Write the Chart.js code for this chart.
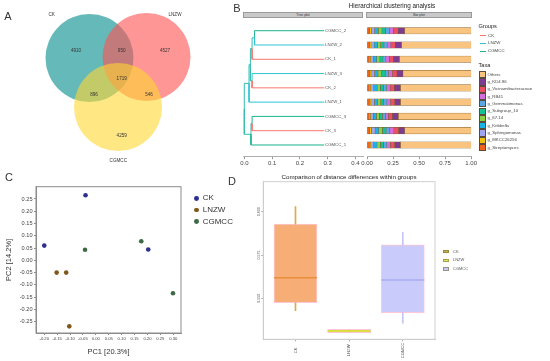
<!DOCTYPE html>
<html>
<head>
<meta charset="utf-8">
<script src="https://cdn.jsdelivr.net/npm/chart.js@4.4.0/dist/chart.umd.min.js"></script>
<style>
  html, body { margin: 0; padding: 0; background: #fff; }
  body { width: 550px; height: 361px; position: relative; overflow: hidden; font-family: "Liberation Sans", Arial, sans-serif; }
  canvas { position: absolute; }
  .t { position: absolute; white-space: nowrap; color: #333; line-height: 1; }
  .c { transform: translate(-50%, -50%); }
  .m { transform: translateY(-50%); }
  .strip { position: absolute; height: 6.7px; background: #c9c9c9; border: 0.5px solid #9a9a9a; box-sizing: border-box;
           font-size: 3.4px; line-height: 5.7px; text-align: center; color: #333; }
</style>
</head>
<body>

<canvas id="venn" width="230" height="170" style="left:0;top:0"></canvas>
<canvas id="tree" width="130" height="175" style="left:236px;top:0"></canvas>
<canvas id="bars" width="118" height="175" style="left:360px;top:0"></canvas>
<canvas id="pca" width="192" height="181" style="left:0;top:180px"></canvas>
<canvas id="box" width="320" height="191" style="left:230px;top:170px"></canvas>

<div class="t c" style="left:8px;top:16px;font-size:11px">A</div>
<div class="t c" style="left:237px;top:8px;font-size:11px">B</div>
<div class="t c" style="left:9px;top:177px;font-size:11px">C</div>
<div class="t c" style="left:232px;top:181px;font-size:11px">D</div>

<div class="t c" style="left:392px;top:6px;font-size:6.3px;color:#222">Hierarchical clustering analysis</div>
<div class="strip" style="left:243px;top:11.7px;width:120px">Tree plot</div>
<div class="strip" style="left:366px;top:11.7px;width:106px">Bar plot</div>
<div id="legB"></div>

<div id="legC"></div>

<div class="t c" style="left:349px;top:176.5px;font-size:6.2px;color:#222">Comparison of distance differences within groups</div>
<div id="legD"></div>

<script>
// ---- A: Venn counts
const vennSets = ['CK', 'LNZW', 'CGMCC'];
const vennRegions = ['CK only', 'CK & LNZW', 'LNZW only', 'all', 'CK & CGMCC', 'LNZW & CGMCC', 'CGMCC only'];
const vennCounts = [4910, 950, 4527, 1719, 896, 546, 4259];

// ---- B: clustering tree + relative abundance
const treeLeaves = ['CGMCC_2', 'LNZW_2', 'CK_1', 'LNZW_3', 'CK_2', 'LNZW_1', 'CGMCC_3', 'CK_3', 'CGMCC_1'];
const leafGroups = ['CGMCC', 'LNZW', 'CK', 'LNZW', 'CK', 'LNZW', 'CGMCC', 'CK', 'CGMCC'];
const leafDepth = 0.288;
// [child a, child b, merge distance]; node ids n0, n1... in order
const treeMerges = [
  ['CGMCC_2', 'LNZW_2', 0.037],
  ['n0', 'CK_1', 0.028],
  ['LNZW_3', 'CK_2', 0.028],
  ['n1', 'n2', 0.022],
  ['n3', 'LNZW_1', 0.017],
  ['CGMCC_3', 'CK_3', 0.028],
  ['n5', 'CGMCC_1', 0.024],
  ['n4', 'n6', 0.0]
];
const treeTicks = [0, 0.1, 0.2, 0.3, 0.4];
const barTicks = [0, 0.25, 0.5, 0.75, 1];

const taxa = ['g_Streptomyces', 'g_MKCC26256', 'g_Sphingomonas', 'g_Kribbella', 'g_67.14', 'g_Subgroup_10',
              'g_Gemmatimonas', 'g_RB41', 'g_Vicinamibacteraceae', 'g_KD4.96', 'Others'];
const abStreptomyces  = [0.025, 0.022, 0.020, 0.022, 0.020, 0.021, 0.020, 0.024, 0.021];
const abMKCC26256     = [0.018, 0.016, 0.015, 0.016, 0.015, 0.016, 0.014, 0.017, 0.015];
const abSphingomonas  = [0.030, 0.030, 0.028, 0.034, 0.030, 0.034, 0.026, 0.036, 0.028];
const abKribbella     = [0.035, 0.032, 0.030, 0.034, 0.032, 0.030, 0.030, 0.035, 0.032];
const ab67_14         = [0.035, 0.030, 0.030, 0.033, 0.030, 0.030, 0.028, 0.035, 0.032];
const abSubgroup10    = [0.035, 0.033, 0.030, 0.035, 0.032, 0.030, 0.030, 0.036, 0.032];
const abGemmatimonas  = [0.035, 0.030, 0.028, 0.032, 0.030, 0.030, 0.027, 0.034, 0.030];
const abRB41          = [0.040, 0.035, 0.032, 0.038, 0.033, 0.034, 0.030, 0.040, 0.034];
const abVicinamib     = [0.045, 0.042, 0.040, 0.043, 0.040, 0.040, 0.038, 0.045, 0.040];
const abKD4_96        = [0.062, 0.060, 0.057, 0.058, 0.058, 0.055, 0.057, 0.058, 0.056];
const abOthers        = [0.640, 0.670, 0.690, 0.655, 0.680, 0.680, 0.700, 0.640, 0.680];
const taxaValues = [abStreptomyces, abMKCC26256, abSphingomonas, abKribbella, ab67_14, abSubgroup10,
                    abGemmatimonas, abRB41, abVicinamib, abKD4_96, abOthers];

// ---- C: PCA
const pcaGroups = ['CK', 'LNZW', 'CGMCC'];
const pc1CK = [-0.040, -0.200, 0.203];
const pc2CK = [0.265, 0.060, 0.044];
const pc1LNZW = [-0.152, -0.115, -0.103];
const pc2LNZW = [-0.050, -0.050, -0.269];
const pc1CGMCC = [-0.042, 0.176, 0.299];
const pc2CGMCC = [0.043, 0.078, -0.134];
const pc1Ticks = [-0.20, -0.15, -0.10, -0.05, 0, 0.05, 0.10, 0.15, 0.20, 0.25, 0.30];
const pc2Ticks = [-0.25, -0.20, -0.15, -0.10, -0.05, 0, 0.05, 0.10, 0.15, 0.20, 0.25];

// ---- D: within-group distances (box stats)
const boxGroups = ['CK', 'LNZW', 'CGMCC'];
const boxMin = [0.5428, 0.5301, 0.5356];
const boxQ1 = [0.5475, 0.5301, 0.5417];
const boxMedian = [0.5619, 0.5311, 0.5606];
const boxQ3 = [0.5929, 0.5321, 0.5808];
const boxMax = [0.6029, 0.5321, 0.5881];
const boxTicks = [0.550, 0.575, 0.600];

// ---------------- styling / layout ----------------
const FONT = '"Liberation Sans", Arial, sans-serif';
Chart.defaults.font.family = FONT;
Chart.defaults.animation = false;
Chart.defaults.plugins.legend.display = false;
Chart.defaults.plugins.tooltip.enabled = false;

const vennColors = ['rgba(0,139,139,0.6)', 'rgba(255,80,80,0.6)', 'rgba(255,215,50,0.6)'];
const vennCenters = [[89.5, 58], [146.5, 57], [118, 107]];
const vennRadius = 44;
const vennCountPos = [[76, 51], [121.7, 51], [165, 51], [121.7, 78.3], [94, 95], [149, 95], [121.7, 135.7]];
const vennSetPos = [[51.7, 15], [175, 15], [118.3, 161]];

const groupColors = { CK: '#f8766d', LNZW: '#2fc5d5', CGMCC: '#19b48c' };
const mixedColor = '#35bdb0';
const taxaColors = ['#f0631c', '#f4c20d', '#9ea3f2', '#19b3e6', '#8ccf46', '#16c193',
                    '#5aa7e8', '#d36ee0', '#ec4f63', '#7d3c91', '#f9c47f'];
const pcaColors = ['#2c2f8e', '#80561a', '#3d6a45'];
const boxFill = ['#f7ad76', '#e8e852', '#c9cbfa'];
const boxMedColor = ['#e8903e', '#d8d840', '#a9adf0'];
const boxWhisker = ['#d6ae4a', '#e8e852', '#c3c5f4'];
const boxLegend = ['#c9b24a', '#e6e65a', '#c8c9f6'];

const fixedTicks = arr => s => { s.ticks = arr.map(v => ({ value: v })); };
const frame = color => ({
  id: 'frame',
  afterDraw(chart) {
    const { ctx, chartArea: a } = chart;
    ctx.save();
    ctx.strokeStyle = color;
    ctx.lineWidth = 1;
    ctx.strokeRect(a.left, a.top, a.right - a.left, a.bottom - a.top);
    ctx.restore();
  }
});

// ---------------- A: Venn ----------------
new Chart(document.getElementById('venn'), {
  type: 'bubble',
  data: {
    datasets: [{
      data: vennSets.map((s, i) => ({ x: vennCenters[i][0], y: vennCenters[i][1], r: vennRadius })),
      backgroundColor: vennColors,
      borderWidth: 0,
      hoverRadius: 0
    }]
  },
  options: {
    responsive: false,
    layout: { padding: 0, autoPadding: false },
    clip: false,
    scales: {
      x: { min: 0, max: 230, display: false },
      y: { min: 0, max: 170, reverse: true, display: false }
    }
  },
  plugins: [{
    id: 'vennText',
    afterDatasetsDraw(chart) {
      const { ctx, scales: { x, y } } = chart;
      ctx.save();
      ctx.font = '4.6px ' + FONT;
      ctx.fillStyle = '#333';
      ctx.textAlign = 'center';
      ctx.textBaseline = 'middle';
      vennCounts.forEach((n, i) => ctx.fillText(String(n), x.getPixelForValue(vennCountPos[i][0]), y.getPixelForValue(vennCountPos[i][1])));
      vennSets.forEach((s, i) => ctx.fillText(s, x.getPixelForValue(vennSetPos[i][0]), y.getPixelForValue(vennSetPos[i][1])));
      ctx.restore();
    }
  }]
});

// ---------------- B: dendrogram ----------------
const nodes = {};
treeLeaves.forEach((n, i) => { nodes[n] = { x: leafDepth, y: i, group: leafGroups[i] }; });
const edges = [];
treeMerges.forEach(([a, b, d], k) => {
  const A = nodes[a], B = nodes[b];
  const node = { x: d, y: (A.y + B.y) / 2, group: A.group === B.group ? A.group : null };
  nodes['n' + k] = node;
  [A, B].forEach(ch => edges.push({
    pts: [{ x: node.x, y: node.y }, { x: node.x, y: ch.y }, { x: ch.x, y: ch.y }],
    color: ch.group ? groupColors[ch.group] : mixedColor
  }));
});

const axisX = (ticks, min, max, fmt) => ({
  type: 'linear', min, max, offset: false,
  afterBuildTicks: fixedTicks(ticks),
  afterFit: s => { s.height = 18.3; },
  border: { color: '#9a9a9a', width: 0.8 },
  grid: { drawOnChartArea: false, drawTicks: true, tickLength: 2.5, color: '#9a9a9a', offset: false },
  ticks: { font: { size: 6 }, color: '#444', padding: 1, maxRotation: 0, callback: fmt }
});

new Chart(document.getElementById('tree'), {
  type: 'scatter',
  data: {
    datasets: edges.map(e => ({
      data: e.pts, showLine: true, borderColor: e.color, borderWidth: 1,
      pointRadius: 0, fill: false
    }))
  },
  options: {
    responsive: false,
    layout: { padding: { left: 7, right: 3, top: 19, bottom: 0 }, autoPadding: false },
    scales: {
      x: axisX(treeTicks, -0.0047, 0.4277, v => v.toFixed(1)),
      y: { type: 'linear', min: -0.82, max: 8.82, reverse: true, display: false }
    }
  },
  plugins: [{
    id: 'leafLabels',
    afterDatasetsDraw(chart) {
      const { ctx, scales: { x, y } } = chart;
      ctx.save();
      ctx.font = '4.3px ' + FONT;
      ctx.fillStyle = '#555';
      ctx.textBaseline = 'middle';
      treeLeaves.forEach((n, i) => ctx.fillText(n, x.getPixelForValue(leafDepth) + 0.8, y.getPixelForValue(i)));
      ctx.restore();
    }
  }]
});

// ---------------- B: stacked bars ----------------
new Chart(document.getElementById('bars'), {
  type: 'bar',
  data: {
    datasets: taxa.map((t, k) => ({
      label: t,
      data: taxaValues[k].map((v, i) => ({ x: v, y: i })),
      backgroundColor: taxaColors[k],
      borderColor: '#7a5a2a',
      borderWidth: 0.5,
      borderSkipped: false,
      barThickness: 6.5
    }))
  },
  options: {
    responsive: false,
    indexAxis: 'y',
    layout: { padding: { left: 7, right: 5, top: 19, bottom: 0 } },
    scales: {
      x: Object.assign(axisX(barTicks, 0, 1, v => v.toFixed(2)), { stacked: true }),
      y: { type: 'linear', min: -0.82, max: 8.82, reverse: true, stacked: true, offset: false, display: false,
           grid: { offset: false } }
    }
  }
});

// legend B
(function () {
  const el = document.getElementById('legB');
  let h = '<div class="t m" style="left:478.5px;top:26.7px;font-size:5.6px;color:#222">Groups</div>';
  pcaGroups.forEach((g, i) => {
    const yc = 35.7 + i * 7.65;
    h += `<div style="position:absolute;left:480px;top:${yc - 0.5}px;width:6px;height:1px;background:${groupColors[g]}"></div>`;
    h += `<div class="t m" style="left:488px;top:${yc}px;font-size:4.4px;color:#444">${g}</div>`;
  });
  h += '<div class="t m" style="left:478.5px;top:65.7px;font-size:5.6px;color:#222">Taxa</div>';
  taxa.slice().reverse().forEach((t, k) => {
    const idx = taxa.length - 1 - k;
    const top = 71 + k * 7.3;
    h += `<div style="position:absolute;left:479px;top:${top}px;width:6.5px;height:7.3px;box-sizing:border-box;border:0.5px solid #5a4a3a;background:${taxaColors[idx]}"></div>`;
    h += `<div class="t m" style="left:487.5px;top:${top + 3.65}px;font-size:4.3px;color:#444">${t}</div>`;
  });
  el.innerHTML = h;
})();

// ---------------- C: PCA ----------------
const pc1 = [pc1CK, pc1LNZW, pc1CGMCC];
const pc2 = [pc2CK, pc2LNZW, pc2CGMCC];
const fmt2 = v => (Math.abs(v) < 1e-9 ? 0 : v).toFixed(2);
new Chart(document.getElementById('pca'), {
  type: 'scatter',
  data: {
    datasets: pcaGroups.map((g, i) => ({
      label: g,
      data: pc1[i].map((x, j) => ({ x, y: pc2[i][j] })),
      backgroundColor: pcaColors[i],
      borderColor: pcaColors[i],
      borderWidth: 0,
      pointRadius: 2.3
    }))
  },
  options: {
    responsive: false,
    layout: { padding: { left: 0, right: 11, top: 6.7, bottom: 0 }, autoPadding: false },
    scales: {
      x: {
        type: 'linear', min: -0.232, max: 0.33,
        afterBuildTicks: fixedTicks(pc1Ticks),
        afterFit: s => { s.height = 28; },
        border: { color: '#8c8c8c' },
        grid: { drawOnChartArea: false, drawTicks: true, tickLength: 2, color: '#8c8c8c' },
        ticks: { font: { size: 4.2 }, color: '#444', padding: 1.5, maxRotation: 0, callback: fmt2 },
        title: { display: true, text: 'PC1 [20.3%]', font: { size: 7.5 }, color: '#333', padding: { top: 0, bottom: 4.8 } }
      },
      y: {
        type: 'linear', min: -0.296, max: 0.30,
        afterBuildTicks: fixedTicks(pc2Ticks),
        afterFit: s => { s.width = 36; },
        border: { color: '#8c8c8c' },
        grid: { drawOnChartArea: false, drawTicks: true, tickLength: 2, color: '#8c8c8c' },
        ticks: { font: { size: 5.6 }, color: '#444', padding: 1.5, callback: fmt2 },
        title: { display: true, text: 'PC2 [14.2%]', font: { size: 7.5 }, color: '#333', padding: { top: 4.8, bottom: 0 } }
      }
    }
  },
  plugins: [frame('#8c8c8c')]
});

(function () {
  const el = document.getElementById('legC');
  let h = '';
  pcaGroups.forEach((g, i) => {
    const yc = 198.3 + i * 11.7;
    h += `<div style="position:absolute;left:194.3px;top:${yc - 2.4}px;width:4.8px;height:4.8px;border-radius:50%;background:${pcaColors[i]}"></div>`;
    h += `<div class="t m" style="left:202.7px;top:${yc}px;font-size:8px;color:#333">${g}</div>`;
  });
  el.innerHTML = h;
})();

// ---------------- D: box plot ----------------
const boxX = boxGroups.map((g, i) => i + 1);
new Chart(document.getElementById('box'), {
  type: 'bar',
  data: {
    datasets: [
      {
        type: 'line', label: 'median',
        data: boxX.map((x, i) => ({ x, y: boxMedian[i] })),
        showLine: false, pointStyle: 'line', pointRadius: 21.5,
        pointBorderColor: boxMedColor, pointBorderWidth: 1.5, pointBackgroundColor: boxMedColor
      },
      {
        label: 'box',
        data: boxX.map((x, i) => ({ x, y: [boxQ1[i], boxQ3[i]] })),
        backgroundColor: boxFill, borderColor: 'rgba(255,175,195,0.7)', borderWidth: 1,
        borderSkipped: false, barThickness: 43, grouped: false
      },
      {
        label: 'whisker',
        data: boxX.map((x, i) => ({ x, y: [boxMin[i], boxMax[i]] })),
        backgroundColor: boxWhisker, borderWidth: 0, barThickness: 1, grouped: false
      }
    ]
  },
  options: {
    responsive: false,
    layout: { padding: { left: 0, right: 115, top: 11.7, bottom: 0 }, autoPadding: false },
    scales: {
      x: {
        type: 'linear', min: 0.4, max: 3.6, offset: false,
        afterBuildTicks: fixedTicks(boxX),
        afterFit: s => { s.height = 21.7; },
        border: { color: '#c4c4c4' },
        grid: { drawOnChartArea: false, drawTicks: true, tickLength: 2, color: '#aaa', offset: false },
        ticks: { display: false }
      },
      y: {
        type: 'linear', min: 0.52633, max: 0.61732,
        afterBuildTicks: fixedTicks(boxTicks),
        afterFit: s => { s.width = 33.3; },
        border: { color: '#c4c4c4' },
        grid: { drawOnChartArea: false, drawTicks: true, tickLength: 2, color: '#aaa' },
        ticks: { display: false }
      }
    }
  },
  plugins: [frame('#cfcfcf'), {
    id: 'rotLabels',
    afterDraw(chart) {
      const { ctx, scales: { x, y } } = chart;
      ctx.save();
      ctx.fillStyle = '#555';
      ctx.textAlign = 'center';
      ctx.textBaseline = 'middle';
      ctx.font = '3.6px ' + FONT;
      boxTicks.forEach(v => {
        ctx.save();
        ctx.translate(x.left - 4.8, y.getPixelForValue(v));
        ctx.rotate(-Math.PI / 2);
        ctx.fillText(v.toFixed(3), 0, 0);
        ctx.restore();
      });
      ctx.font = '4.2px ' + FONT;
      boxGroups.forEach((g, i) => {
        ctx.save();
        ctx.translate(x.getPixelForValue(boxX[i]), y.bottom + 11);
        ctx.rotate(-Math.PI / 2);
        ctx.fillText(g, 0, 0);
        ctx.restore();
      });
      ctx.restore();
    }
  }]
});

(function () {
  const el = document.getElementById('legD');
  let h = '';
  boxGroups.forEach((g, i) => {
    const yc = 251.7 + i * 8.7;
    h += `<div style="position:absolute;left:442.7px;top:${yc - 1.8}px;width:6px;height:3.6px;box-sizing:border-box;border:0.5px solid rgba(120,110,60,0.6);background:${boxLegend[i]}"></div>`;
    h += `<div class="t m" style="left:453px;top:${yc}px;font-size:4px;color:#555">${g}</div>`;
  });
  el.innerHTML = h;
})();
</script>
</body>
</html>
